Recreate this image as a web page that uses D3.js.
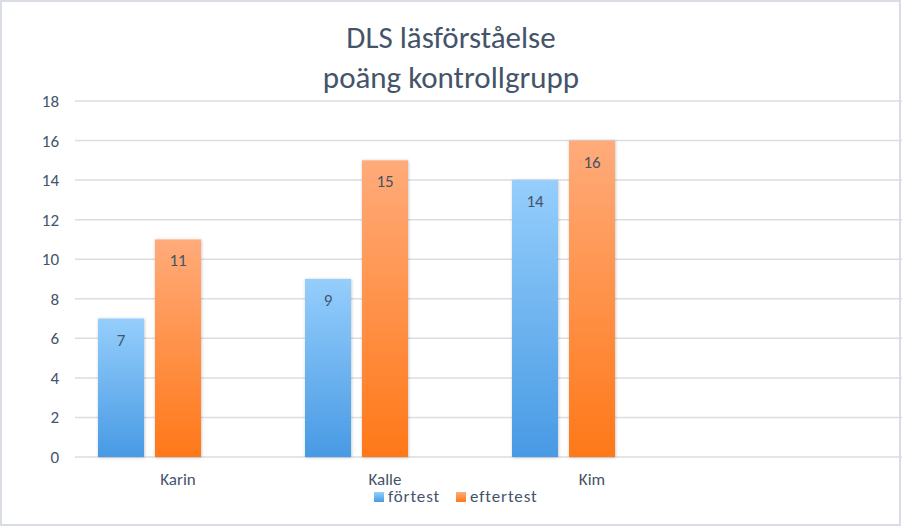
<!DOCTYPE html>
<html>
<head>
<meta charset="utf-8" />
<title>DLS läsförståelse – poäng kontrollgrupp</title>
<script src="https://d3js.org/d3.v7.min.js"></script>
<style>
  body { margin: 0; background: #fff; }
  text { font-family: Calibri, Carlito, Lato, sans-serif; font-weight: 300; }
</style>
</head>
<body>
<div id="chart"></div>
<script>
// data
var categories = ["Karin", "Kalle", "Kim", ""];
var seriesNames = ["förtest", "eftertest", "_tom"];   // third series is empty in the original
var fortest = [7, 9, 14];
var eftertest = [11, 15, 16];
var yTicks = [0, 2, 4, 6, 8, 10, 12, 14, 16, 18];
var titleLines = ["DLS läsförståelse", "poäng kontrollgrupp"];

var W = 902, H = 527;
var textColor = "#44546a";

var svg = d3.select("#chart").append("svg")
  .attr("width", W)
  .attr("height", H);

var defs = svg.append("defs");

// gradients for the bars
function addGrad(id, top, bottom) {
  var g = defs.append("linearGradient")
    .attr("id", id)
    .attr("x1", 0).attr("y1", 0).attr("x2", 0).attr("y2", 1);
  g.append("stop").attr("offset", "0%").attr("stop-color", top);
  g.append("stop").attr("offset", "100%").attr("stop-color", bottom);
}
addGrad("gradBlue", "#95cefc", "#489ae4");
addGrad("gradOrange", "#ffab7a", "#ff7818");

var shadow = defs.append("filter")
  .attr("id", "shadow")
  .attr("x", "-20%").attr("y", "-10%").attr("width", "140%").attr("height", "120%");
shadow.append("feDropShadow")
  .attr("dx", 0.5).attr("dy", 0.5)
  .attr("stdDeviation", 1.5)
  .attr("flood-color", "#000")
  .attr("flood-opacity", 0.25);

// scales
var x0 = d3.scaleBand()
  .domain(categories)
  .range([74.5, 902.5])
  .paddingInner(0.227)
  .paddingOuter(0.1135);

var x1 = d3.scaleBand()
  .domain(seriesNames)
  .range([0, x0.bandwidth()])
  .paddingInner(0.193);

var y = d3.scaleLinear()
  .domain([0, 18])
  .range([457, 101]);

// grid lines
svg.append("g")
  .selectAll("line")
  .data(yTicks)
  .enter().append("line")
    .attr("x1", 75)
    .attr("x2", W)
    .attr("y1", function(d) { return y(d); })
    .attr("y2", function(d) { return y(d); })
    .attr("stroke", "#d9dee4")
    .attr("stroke-width", 1.5);

// Y axis labels
var yAxis = svg.append("g")
  .attr("transform", "translate(60,0)")
  .call(d3.axisLeft(y).tickValues(yTicks).tickSize(0).tickPadding(1));
yAxis.select(".domain").remove();
yAxis.selectAll("text")
  .attr("font-size", "17px")
  .attr("fill", textColor)
  .style("font-family", "Calibri, Carlito, Lato, sans-serif");

// X axis labels
var xAxis = svg.append("g")
  .attr("transform", "translate(0,469)")
  .call(d3.axisBottom(x0).tickSize(0).tickPadding(0));
xAxis.select(".domain").remove();
xAxis.selectAll("text")
  .attr("font-size", "17px")
  .attr("fill", textColor)
  .attr("dy", "0.95em")
  .style("font-family", "Calibri, Carlito, Lato, sans-serif");

// bars
var rows = [];
fortest.forEach(function(v, i) {
  rows.push({ cat: categories[i], s: "förtest", v: v, fill: "url(#gradBlue)" });
  rows.push({ cat: categories[i], s: "eftertest", v: eftertest[i], fill: "url(#gradOrange)" });
});

var bars = svg.append("g");
bars.selectAll("rect")
  .data(rows)
  .enter().append("rect")
    .attr("x", function(d) { return x0(d.cat) + x1(d.s); })
    .attr("y", function(d) { return y(d.v); })
    .attr("width", x1.bandwidth())
    .attr("height", function(d) { return y(0) - y(d.v); })
    .attr("fill", function(d) { return d.fill; })
    .attr("filter", "url(#shadow)");

// value labels inside the bar tops
bars.selectAll("text")
  .data(rows)
  .enter().append("text")
    .attr("x", function(d) { return x0(d.cat) + x1(d.s) + x1.bandwidth() / 2; })
    .attr("y", function(d) { return y(d.v) + 27; })
    .attr("text-anchor", "middle")
    .attr("font-size", "17px")
    .attr("fill", textColor)
    .text(function(d) { return d.v; });

// title
svg.append("g")
  .selectAll("text")
  .data(titleLines)
  .enter().append("text")
    .attr("x", 451)
    .attr("y", function(d, i) { return 48 + i * 40; })
    .attr("text-anchor", "middle")
    .attr("font-size", "31px")
    .attr("fill", textColor)
    .text(function(d) { return d; });

// legend
var legendItems = [
  { name: "förtest", fill: "url(#gradBlue)", x: 374 },
  { name: "eftertest", fill: "url(#gradOrange)", x: 456 }
];
var legend = svg.append("g");
var li = legend.selectAll("g")
  .data(legendItems)
  .enter().append("g")
    .attr("transform", function(d) { return "translate(" + d.x + ",492)"; });
li.append("rect")
  .attr("width", 10)
  .attr("height", 10)
  .attr("fill", function(d) { return d.fill; });
li.append("text")
  .attr("x", 14)
  .attr("y", 10)
  .attr("font-size", "17px")
  .attr("letter-spacing", "0.9px")
  .attr("fill", textColor)
  .text(function(d) { return d.name; });

// outer frame
svg.append("rect")
  .attr("x", 1)
  .attr("y", 1)
  .attr("width", W - 3)
  .attr("height", H - 3)
  .attr("fill", "none")
  .attr("stroke", "#d9dee4")
  .attr("stroke-width", 2);
</script>
</body>
</html>
